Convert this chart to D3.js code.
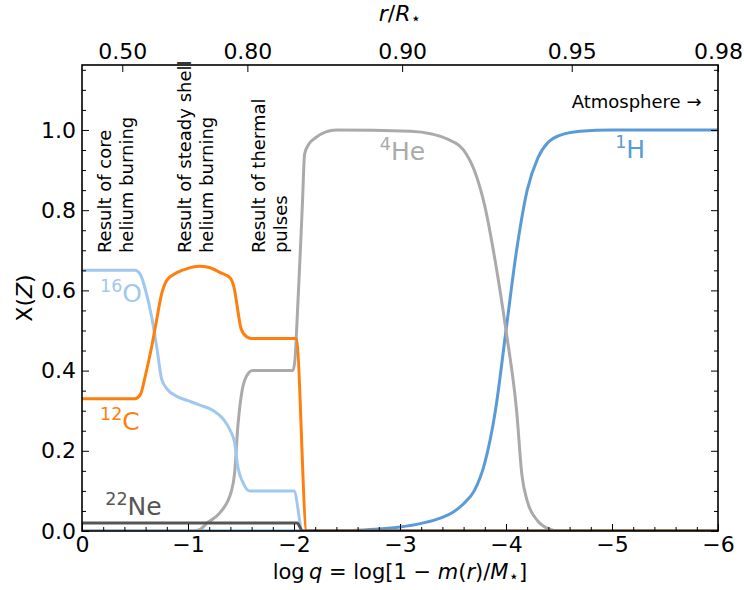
<!DOCTYPE html>
<html>
<head>
<meta charset="utf-8">
<script src="https://cdn.jsdelivr.net/npm/d3@7"></script>
<style>
body { margin: 0; background: #fff; }
text { font-family: "DejaVu Sans", sans-serif; fill: #000; }
</style>
</head>
<body>
<script>
// Abundance profiles, pairs of [log q, X]
var hydrogen = [
    [0, 0], [-2.4, 0], [-2.6, 0.002], [-2.8, 0.005], [-3.0, 0.01], [-3.2, 0.019],
    [-3.4, 0.034], [-3.5, 0.047], [-3.6, 0.068], [-3.7, 0.1], [-3.8, 0.17],
    [-3.9, 0.3], [-4.0, 0.5], [-4.1, 0.7], [-4.2, 0.85], [-4.3, 0.93],
    [-4.4, 0.97], [-4.5, 0.986], [-4.7, 0.997], [-5.0, 1.0], [-6.0, 1.0]
];
var helium = [
    [0, 0], [-1.05, 0], [-1.12, 0.005], [-1.18, 0.02], [-1.3, 0.045], [-1.41, 0.1],
    [-1.44, 0.145], [-1.47, 0.26], [-1.51, 0.35], [-1.55, 0.385], [-1.61, 0.4],
    [-1.99, 0.4], [-2.01, 0.43], [-2.03, 0.53], [-2.06, 0.7], [-2.08, 0.82],
    [-2.1, 0.94], [-2.14, 0.965], [-2.2, 0.98], [-2.3, 0.995], [-2.4, 1.0],
    [-3.1, 0.997], [-3.3, 0.99], [-3.45, 0.977], [-3.6, 0.95], [-3.7, 0.9],
    [-3.8, 0.81], [-3.9, 0.67], [-4.0, 0.5], [-4.1, 0.3], [-4.15, 0.14],
    [-4.2, 0.075], [-4.3, 0.025], [-4.4, 0.006], [-4.5, 0], [-6.0, 0]
];
var carbon = [
    [0, 0.33], [-0.5, 0.33], [-0.55, 0.34], [-0.6, 0.39], [-0.65, 0.45],
    [-0.7, 0.52], [-0.75, 0.59], [-0.8, 0.625], [-0.9, 0.645], [-1.0, 0.655],
    [-1.1, 0.66], [-1.2, 0.657], [-1.3, 0.645], [-1.4, 0.63], [-1.44, 0.6],
    [-1.47, 0.55], [-1.5, 0.505], [-1.55, 0.485], [-1.6, 0.48], [-2.02, 0.48],
    [-2.12, 0], [-6.0, 0]
];
var oxygen = [
    [0, 0.65], [-0.5, 0.65], [-0.55, 0.64], [-0.6, 0.6], [-0.66, 0.53],
    [-0.71, 0.45], [-0.75, 0.38], [-0.8, 0.355], [-0.9, 0.335], [-1.0, 0.325],
    [-1.1, 0.315], [-1.24, 0.3], [-1.33, 0.28], [-1.4, 0.25], [-1.44, 0.22],
    [-1.47, 0.16], [-1.52, 0.12], [-1.58, 0.1], [-2.0, 0.1], [-2.08, 0], [-6.0, 0]
];
var neon = [
    [0, 0.02], [-2.03, 0.02], [-2.08, 0], [-6.0, 0]
];

var xTicks = [0, -1, -2, -3, -4, -5, -6];
var yTicks = [0, 0.2, 0.4, 0.6, 0.8, 1.0];
var topTickLabels = ["0.50", "0.80", "0.90", "0.95", "0.98"];
var topTickPositions = [-0.38, -1.56, -3.02, -4.62, -6.0];

var width = 744, height = 590;
var margin = { left: 82, right: 26, top: 65, bottom: 59 };

var x = d3.scaleLinear().domain([0, -6]).range([margin.left, width - margin.right]);
var y = d3.scaleLinear().domain([0, 1.162]).range([height - margin.bottom, margin.top]);

var svg = d3.select("body").append("svg")
    .attr("width", width)
    .attr("height", height);

svg.append("clipPath").attr("id", "plot-clip")
    .append("rect")
    .attr("x", x(0)).attr("y", y(1.162))
    .attr("width", x(-6) - x(0)).attr("height", y(0) - y(1.162));

var line = d3.line()
    .x(function(d) { return x(d[0]); })
    .y(function(d) { return y(d[1]); })
    .curve(d3.curveMonotoneX);

// Draw order: H, He, O, C, Ne
var series = [
    { data: hydrogen, color: "#5a9bd5" },
    { data: helium,   color: "#aaaaaa" },
    { data: oxygen,   color: "#a0c8ee" },
    { data: carbon,   color: "#ff7f0e" },
    { data: neon,     color: "#555555" }
];

svg.append("g").attr("clip-path", "url(#plot-clip)")
    .selectAll("path")
    .data(series)
    .enter().append("path")
    .attr("d", function(s) { return line(s.data); })
    .style("fill", "none")
    .style("stroke", function(s) { return s.color; })
    .style("stroke-width", 3)
    .style("stroke-linejoin", "round");

// Isotope labels: [mass number, symbol, log q, X, colour]
var isotopeLabels = [
    ["16", "O",  -0.17, 0.571, "#a0c8ee"],
    ["12", "C",  -0.17, 0.252, "#ff7f0e"],
    ["22", "Ne", -0.22, 0.04,  "#555555"],
    ["4",  "He", -2.81, 0.925, "#aaaaaa"],
    ["1",  "H",  -5.03, 0.93,  "#5a9bd5"]
];

isotopeLabels.forEach(function(l) {
    var t = svg.append("text")
        .attr("x", x(l[2]))
        .attr("y", y(l[3]))
        .style("font-size", "25px")
        .style("fill", l[4]);
    t.append("tspan").text(l[0]).style("font-size", "17.5px").attr("dy", "-0.55em");
    t.append("tspan").text(l[1]).attr("dy", "0.385em");
});

// Vertical annotations
var annotations = [
    { lines: ["Result of core", "helium burning"], q: -0.27, X: 0.693 },
    { lines: ["Result of steady shell", "helium burning"], q: -1.03, X: 0.693 },
    { lines: ["Result of thermal", "pulses"], q: -1.73, X: 0.693 }
];

annotations.forEach(function(a) {
    var t = svg.append("text")
        .attr("transform", "translate(" + x(a.q) + "," + y(a.X) + ") rotate(-90)")
        .style("font-size", "18px");
    a.lines.forEach(function(s, i) {
        t.append("tspan").attr("x", 0).attr("dy", i === 0 ? 0 : "1.22em").text(s);
    });
});

svg.append("text")
    .attr("x", x(-4.62))
    .attr("y", y(1.055))
    .style("font-size", "18px")
    .text("Atmosphere \u2192");

// Axes with inward ticks
var minorX = d3.range(0, 31).map(function(i) { return -i * 0.2; })
    .filter(function(v) { return Math.abs(v - Math.round(v)) > 1e-6; });
var minorY = d3.range(0, 24).map(function(i) { return i * 0.05; })
    .filter(function(v) { return Math.abs(v * 5 - Math.round(v * 5)) > 1e-6; });

var fmtX = function(d) { return d === 0 ? "0" : "\u2212" + Math.abs(d); };

function styleAxis(g, fontSize) {
    g.select(".domain").remove();
    g.selectAll("line").style("stroke", "#000").style("stroke-width", 1);
    g.selectAll("text").style("font-family", "DejaVu Sans").style("font-size", fontSize);
}

svg.append("g").attr("transform", "translate(0," + y(0) + ")")
    .call(d3.axisBottom(x).tickValues(xTicks).tickSize(-7).tickPadding(5).tickFormat(fmtX))
    .call(styleAxis, "22px");
svg.append("g").attr("transform", "translate(0," + y(0) + ")")
    .call(d3.axisBottom(x).tickValues(minorX).tickSize(-4).tickFormat(""))
    .call(styleAxis, "22px");

svg.append("g").attr("transform", "translate(" + x(0) + ",0)")
    .call(d3.axisLeft(y).tickValues(yTicks).tickSize(-7).tickPadding(6).tickFormat(d3.format(".1f")))
    .call(styleAxis, "22px");
svg.append("g").attr("transform", "translate(" + x(0) + ",0)")
    .call(d3.axisLeft(y).tickValues(minorY).tickSize(-4).tickFormat(""))
    .call(styleAxis, "22px");

svg.append("g").attr("transform", "translate(" + x(-6) + ",0)")
    .call(d3.axisRight(y).tickValues(yTicks).tickSize(-7).tickFormat(""))
    .call(styleAxis, "22px");
svg.append("g").attr("transform", "translate(" + x(-6) + ",0)")
    .call(d3.axisRight(y).tickValues(minorY).tickSize(-4).tickFormat(""))
    .call(styleAxis, "22px");

svg.append("g").attr("transform", "translate(0," + y(1.162) + ")")
    .call(d3.axisTop(x).tickValues(topTickPositions).tickSize(-7).tickPadding(6)
        .tickFormat(function(d, i) { return topTickLabels[i]; }))
    .call(styleAxis, "22px");

// Frame
svg.append("rect")
    .attr("x", x(0)).attr("y", y(1.162))
    .attr("width", x(-6) - x(0)).attr("height", y(0) - y(1.162))
    .style("fill", "none").style("stroke", "#000").style("stroke-width", 1.6);

// Axis titles
var xlab = svg.append("text")
    .attr("x", (x(0) + x(-6)) / 2).attr("y", 579)
    .attr("text-anchor", "middle")
    .style("font-size", "21px");
xlab.append("tspan").text("log\u2009");
xlab.append("tspan").text("q").style("font-style", "italic");
xlab.append("tspan").text(" = log[1 \u2212 ");
xlab.append("tspan").text("m").style("font-style", "italic");
xlab.append("tspan").text("(");
xlab.append("tspan").text("r").style("font-style", "italic");
xlab.append("tspan").text(")/");
xlab.append("tspan").text("M").style("font-style", "italic");
xlab.append("tspan").text("\u22c6").style("font-size", "17px").attr("dy", "3");
xlab.append("tspan").text("]").attr("dy", "-3");

var ylab = svg.append("text")
    .attr("transform", "translate(32," + (y(0) + y(1.162)) / 2 + ") rotate(-90)")
    .attr("text-anchor", "middle")
    .style("font-size", "22px");
ylab.append("tspan").text("X(");
ylab.append("tspan").text("Z").style("font-style", "italic");
ylab.append("tspan").text(")");

var toplab = svg.append("text")
    .attr("x", (x(0) + x(-6)) / 2).attr("y", 21)
    .attr("text-anchor", "middle")
    .style("font-size", "22px");
toplab.append("tspan").text("r").style("font-style", "italic");
toplab.append("tspan").text("/");
toplab.append("tspan").text("R").style("font-style", "italic");
toplab.append("tspan").text("\u22c6").style("font-size", "17px").attr("dy", "3");
</script>
</body>
</html>
